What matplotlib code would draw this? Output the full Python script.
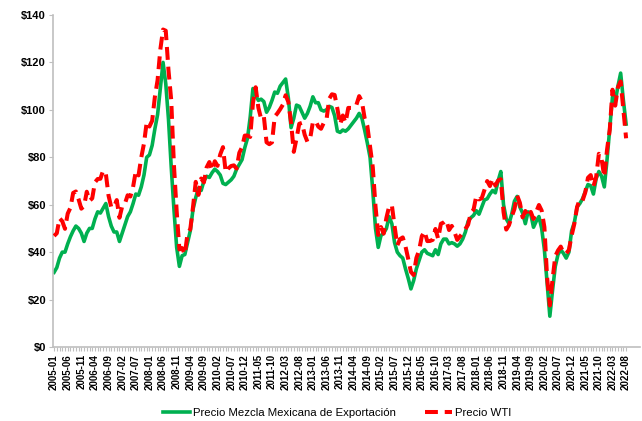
import numpy as np
import pandas as pd
import matplotlib
matplotlib.use("Agg")
import matplotlib.pyplot as plt

plt.rcParams['font.family'] = ['Liberation Sans', 'DejaVu Sans']

# monthly prices, 2005-01 .. 2022-08 (USD per barrel); the source sheet has no 2007-12 row
mme = [
    31.5, 33.5, 37.5, 40.0, 40.0, 43.5, 46.5, 49.0, 51.0, 50.0, 48.0, 44.5,
    48.0, 50.0, 50.0, 54.0, 57.0, 56.5, 58.5, 60.5, 55.0, 51.0, 48.5, 48.5,
    44.5, 48.0, 51.5, 55.0, 57.0, 60.5, 64.5, 64.0, 67.5, 72.5, 80.0,
    81.0, 85.0, 92.0, 98.0, 109.0, 120.0, 111.0, 96.0, 76.0, 58.0, 42.0, 34.0,
    38.5, 39.0, 44.0, 49.0, 58.0, 63.0, 67.0, 66.0, 70.0, 72.0, 71.5, 73.5,
    75.0, 74.0, 72.5, 69.0, 68.5, 69.5, 70.5, 72.0, 75.0, 77.0, 79.0, 84.0,
    88.0, 97.0, 109.0, 106.0, 104.0, 104.5, 103.5, 99.0, 101.0, 104.0, 107.5, 107.0,
    110.0, 111.5, 113.0, 105.0, 92.5, 96.5, 102.0, 101.5, 99.0, 96.5, 98.5, 101.5,
    105.5, 103.0, 103.0, 100.0, 99.5, 100.0, 101.5, 101.0, 97.5, 91.0, 90.5, 91.5,
    91.0, 92.0, 93.5, 95.0, 96.5, 98.5, 96.5, 91.5, 86.0, 80.0, 66.0, 50.0,
    42.0, 47.0, 48.0, 50.0, 55.0, 52.0, 44.0, 40.0, 38.5, 37.5, 33.0, 29.0,
    24.5, 28.0, 33.0, 36.5, 40.0, 41.0, 39.5, 39.0, 38.5, 41.0, 39.0, 43.5,
    45.5, 45.5, 43.5, 44.0, 43.5, 42.5, 43.5, 45.5, 48.5, 53.0, 54.5, 55.5,
    57.5, 56.0, 59.0, 62.0, 62.5, 64.5, 66.0, 65.0, 70.0, 74.0, 60.0, 54.0,
    52.0, 56.0, 61.5, 63.5, 59.0, 56.5, 52.0, 57.0, 56.0, 50.5, 53.0, 55.0,
    50.0, 41.0, 27.0, 13.0, 24.0, 34.0, 39.0, 41.0, 39.5, 37.5, 40.0, 49.0,
    52.5, 59.0, 60.5, 62.5, 65.5, 68.5, 68.0, 64.5, 71.0, 74.0, 72.0, 67.5,
    79.0, 92.0, 105.5, 103.5, 110.0, 115.5, 104.0, 94.0,
]

wti = [
    46.84, 47.97, 54.31, 53.04, 49.83, 56.26, 58.70, 64.97, 65.59, 62.26, 58.32, 59.41,
    65.49, 61.63, 62.69, 69.44, 70.84, 70.95, 74.41, 73.04, 63.80, 58.89, 59.08, 61.96,
    54.51, 59.28, 60.44, 63.98, 63.46, 67.49, 74.12, 72.36, 79.92, 85.80, 94.77,
    92.97, 95.39, 105.45, 112.58, 125.40, 133.88, 133.37, 116.67, 104.11, 76.61, 57.31, 41.12,
    41.71, 39.09, 47.94, 49.65, 59.03, 69.64, 64.15, 71.05, 69.41, 75.72, 77.99, 74.47,
    78.33, 76.39, 81.20, 84.29, 73.74, 75.34, 76.32, 76.60, 75.24, 81.89, 84.25, 89.15,
    89.17, 88.58, 102.86, 109.53, 100.90, 96.26, 97.30, 86.33, 85.52, 86.32, 97.16, 98.56,
    100.27, 102.20, 106.16, 103.32, 94.66, 82.30, 87.90, 94.13, 94.51, 89.49, 86.53, 87.86,
    94.76, 95.31, 92.94, 92.02, 94.51, 95.77, 104.67, 106.57, 106.29, 100.54, 93.86, 97.63,
    94.62, 100.82, 100.80, 102.07, 102.18, 105.79, 103.59, 96.54, 93.21, 84.40, 75.79, 59.29,
    47.22, 50.58, 47.82, 54.45, 59.27, 59.82, 50.90, 42.87, 45.48, 46.22, 42.44, 37.19,
    31.68, 30.32, 37.55, 40.75, 46.71, 48.76, 44.65, 44.72, 45.18, 49.78, 45.66, 51.97,
    52.50, 53.47, 49.33, 51.06, 48.48, 45.18, 46.63, 48.04, 49.82, 51.58, 56.64, 57.88,
    63.70, 62.23, 62.73, 66.25, 69.98, 67.87, 70.98, 68.06, 70.23, 70.75, 56.96, 49.52,
    51.38, 54.95, 58.15, 63.86, 60.83, 54.66, 57.35, 54.81, 56.95, 53.96, 57.03, 59.88,
    57.52, 50.54, 29.21, 17.50, 28.56, 38.31, 40.71, 42.34, 39.63, 39.40, 40.94, 47.02,
    52.00, 59.04, 62.33, 61.72, 65.17, 71.38, 72.49, 67.73, 71.65, 81.48, 79.15, 71.71,
    83.22, 91.64, 108.50, 101.78, 109.55, 112.00, 100.00, 88.00,
]

all_months = pd.period_range('2005-01', '2022-08', freq='M').strftime('%Y-%m')
months = [m for m in all_months if m != '2007-12']
x = np.arange(len(months))

fig = plt.figure(figsize=(6.42, 4.21), dpi=100)
ax = fig.add_axes([53 / 642, 74 / 421, 587 / 642, 332 / 421])

ax.plot(x, mme, color='#00B050', lw=2.6, solid_joinstyle='round',
        label='Precio Mezcla Mexicana de Exportación', zorder=2)
ax.plot(x, wti, color='#FF0000', lw=2.9, dashes=(3.2, 1.7),
        label='Precio WTI', zorder=3)

ax.set_ylim(0, 140)
ax.set_xlim(-0.4, 215.1)
ax.set_yticks(range(0, 141, 20))
ax.set_yticklabels([f'${v}' for v in range(0, 141, 20)], fontsize=8, fontweight='bold')

ax.set_xticks(x[::5])
ax.set_xticklabels(months[::5], rotation=90, fontsize=7, fontweight='bold')
ax.set_xticks(x, minor=True)

for s in ['top', 'right']:
    ax.spines[s].set_visible(False)
for s in ['left', 'bottom']:
    ax.spines[s].set_color('#BFBFBF')
    ax.spines[s].set_linewidth(1.2)
ax.tick_params(axis='both', which='both', color='#BFBFBF', length=3, width=0.8, pad=2)

fig.legend(loc='center', bbox_to_anchor=(337 / 642, 8 / 421), ncol=2, frameon=False,
           fontsize=8.2, handlelength=2.4, columnspacing=2.6, handletextpad=0.2)

fig.savefig('out.png', dpi=100)
